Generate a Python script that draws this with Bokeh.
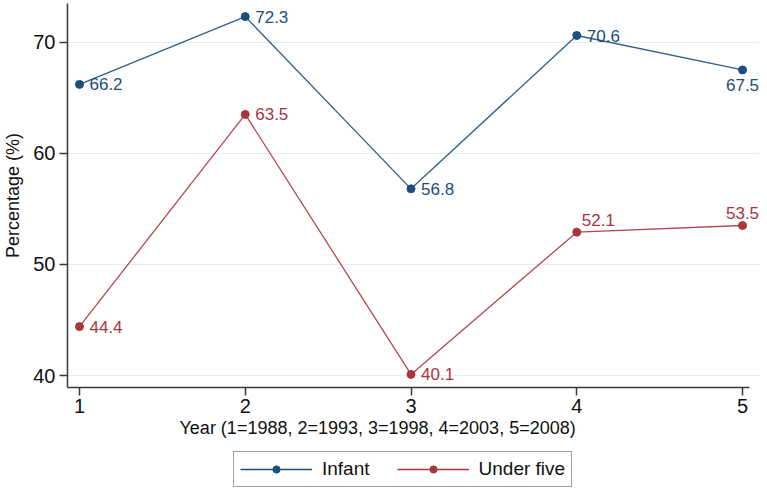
from bokeh.plotting import figure
from bokeh.layouts import column
from bokeh.models import (ColumnDataSource, Range1d, FixedTicker, Legend, LegendItem,
                          LabelSet, Title)
from bokeh.core.properties import value
from bokeh.embed import file_html
from bokeh.resources import INLINE

# ---- data ----
years = [1, 2, 3, 4, 5]
infant = [66.2, 72.3, 56.8, 70.6, 67.5]
under_five = [44.4, 63.5, 40.1, 52.9, 53.5]
infant_labels = ["66.2", "72.3", "56.8", "70.6", "67.5"]
under_five_labels = ["44.4", "63.5", "40.1", "52.1", "53.5"]
x_ticks = [1, 2, 3, 4, 5]
y_ticks = [40, 50, 60, 70]
series_names = ["Infant", "Under five"]
x_title = "Year (1=1988, 2=1993, 3=1998, 4=2003, 5=2008)"
y_title = "Percentage (%)"

# label placement (clock-style) per point
infant_pos = ["r", "r", "r", "r", "b"]
under_five_pos = ["r", "r", "r", "tr", "t"]

FONT = "Liberation Sans"
BLUE = "#1c4f7c"
RED = "#a9353f"

# (x_offset, y_offset, align, baseline); LabelSet y_offset is upward-positive
POS = {
    "r": (10, 0, "left", "middle"),
    "b": (0, -9, "center", "top"),
    "t": (0, 7, "center", "bottom"),
    "tr": (5, 6, "left", "bottom"),
}


def label_source(xs, ys, labels, pos):
    return ColumnDataSource(dict(
        x=xs, y=ys, label=labels,
        xo=[POS[k][0] for k in pos],
        yo=[POS[k][1] for k in pos],
        align=[POS[k][2] for k in pos],
        base=[POS[k][3] for k in pos],
    ))


W = 763
p = figure(width=W, height=450,
           x_range=Range1d(0.9277, 5.1024), y_range=Range1d(38.92, 73.48),
           output_backend="svg", toolbar_location=None,
           min_border_left=66, min_border_right=4, min_border_top=3,
           min_border_bottom=63)
p.outline_line_color = None
p.background_fill_color = "white"
p.border_fill_color = "white"

src_i = ColumnDataSource(dict(x=years, y=infant))
src_u = ColumnDataSource(dict(x=years, y=under_five))

p.line("x", "y", source=src_i, line_color=BLUE, line_width=1.3, line_alpha=0.9)
p.scatter("x", "y", source=src_i, size=8, fill_color=BLUE, line_color=BLUE)
p.line("x", "y", source=src_u, line_color=RED, line_width=1.3, line_alpha=0.9)
p.scatter("x", "y", source=src_u, size=8, fill_color=RED, line_color=RED)

for xs, ys, labs, pos, col in [(years, infant, infant_labels, infant_pos, BLUE),
                               (years, under_five, under_five_labels, under_five_pos, RED)]:
    p.add_layout(LabelSet(x="x", y="y", text="label", x_offset="xo", y_offset="yo",
                          text_align="align", text_baseline="base",
                          source=label_source(xs, ys, labs, pos),
                          text_color=col, text_font=value(FONT), text_font_size="17px"))

# axes
for ax in (p.xaxis[0], p.yaxis[0]):
    ax.axis_line_color = "#3a3a3a"
    ax.axis_line_width = 1.5
    ax.major_tick_line_color = "#3a3a3a"
    ax.major_tick_line_width = 1.5
    ax.major_tick_out = 8
    ax.major_tick_in = 0
    ax.minor_tick_line_color = None
    ax.major_label_text_font = FONT
    ax.major_label_text_font_size = "20px"
    ax.major_label_text_color = "#111111"
    ax.axis_label_text_font = FONT
    ax.axis_label_text_font_size = "18px"
    ax.axis_label_text_font_style = "normal"
    ax.axis_label_text_color = "#111111"

p.xaxis.ticker = FixedTicker(ticks=x_ticks)
p.yaxis.ticker = FixedTicker(ticks=y_ticks)
p.xaxis.bounds = (0.9277, 5.042)
p.yaxis.axis_label = y_title
p.xaxis.major_label_standoff = 3
p.yaxis.major_label_standoff = 4
p.yaxis.axis_label_standoff = 7
p.yaxis.major_label_orientation = "horizontal"

# x title centred on the whole graph (as in the original), not on the frame
p.add_layout(Title(text=x_title, align="left", offset=112, standoff=0,
                   text_font=FONT, text_font_size="18px", text_font_style="normal",
                   text_color="#111111"), "below")

p.xgrid.grid_line_color = None
p.ygrid.grid_line_color = "#e4eef0"
p.ygrid.grid_line_width = 1.2

# ---- legend strip (its glyphs use the same series, outside the strip's view) ----
q = figure(width=W, height=44, x_range=Range1d(100, 101), y_range=Range1d(100, 101),
           output_backend="svg", toolbar_location=None,
           x_axis_location=None, y_axis_location=None,
           min_border_left=0, min_border_right=0, min_border_top=0, min_border_bottom=0)
q.outline_line_color = None
q.xgrid.grid_line_color = None
q.ygrid.grid_line_color = None
q.background_fill_color = "white"
q.border_fill_color = "white"

ql1 = q.line("x", "y", source=src_i, line_color=BLUE, line_width=1.3)
qs1 = q.scatter("x", "y", source=src_i, size=8, fill_color=BLUE, line_color=BLUE)
ql2 = q.line("x", "y", source=src_u, line_color=RED, line_width=1.3)
qs2 = q.scatter("x", "y", source=src_u, size=8, fill_color=RED, line_color=RED)

legend = Legend(items=[LegendItem(label=series_names[0], renderers=[ql1, qs1]),
                       LegendItem(label=series_names[1], renderers=[ql2, qs2])],
                orientation="horizontal", location=(166, 7))
legend.border_line_color = "#444444"
legend.border_line_width = 1
legend.padding = 6
legend.spacing = 27
legend.glyph_width = 72
legend.glyph_height = 18
legend.label_standoff = 10
legend.label_text_font = FONT
legend.label_text_font_size = "19px"
legend.label_text_color = "#111111"
legend.margin = 0
legend.background_fill_color = "white"
q.add_layout(legend, "center")

open("out.html", "w").write(file_html(column(p, q, spacing=0), INLINE))
